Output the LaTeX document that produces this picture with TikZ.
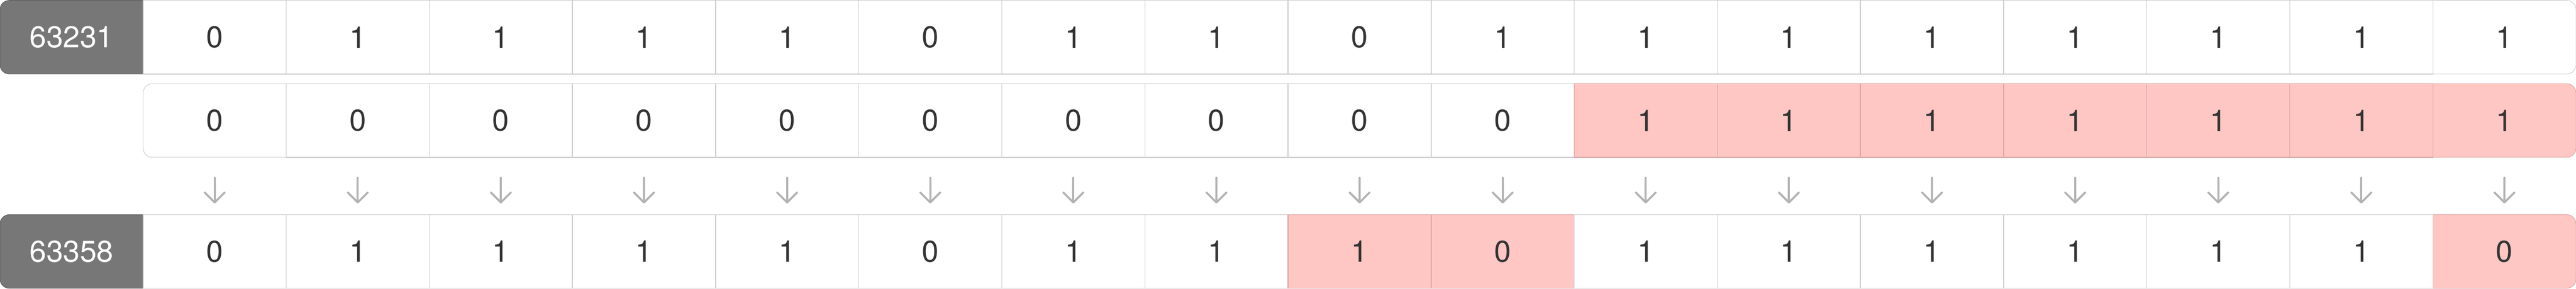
\documentclass[tikz,border=0pt]{standalone}
\usepackage{fontspec}
\setmainfont{TeX Gyre Heros}
\usetikzlibrary{positioning, arrows.meta, backgrounds}
\definecolor{cellline}{HTML}{CCCCCC}
\definecolor{flipfill}{HTML}{FFC7C3}
\definecolor{flipline}{HTML}{D9A3A0}
\definecolor{labfill}{HTML}{777777}
\definecolor{labline}{HTML}{5F5F5F}
\definecolor{digit}{HTML}{333333}
\definecolor{arrgray}{HTML}{B3B3B3}
\tikzset{pcell/.style={draw=cellline, fill=white}}
\tikzset{pflip/.style={draw=flipline, fill=flipfill}}
\tikzset{plab/.style={draw=labline, fill=labfill}}
\tikzset{dcell/.style={rectangle, pcell, line width=0.02cm, minimum width=3.84cm, minimum height=1.98cm, inner sep=0pt, outer sep=0pt, text=digit, font=\fontsize{23}{28}\selectfont}}
\tikzset{dflip/.style={dcell, pflip}}
\tikzset{dlabel/.style={dcell, plab, text=white}}
\tikzset{dcorner/.style={draw=none, fill=none}}
\tikzset{arr/.style={draw=arrgray, line width=0.055cm, line cap=round, -{Straight Barb[round, length=0.27cm, width=0.54cm]}, shorten <=0.55cm, shorten >=0.3cm}}
\newcommand{\crad}{0.25cm}
\newcommand{\lround}[2]{\path[#2] (#1.north east) -- ([xshift=\crad]#1.north west)
    arc[start angle=90, end angle=180, radius=\crad] -- ([yshift=\crad]#1.south west)
    arc[start angle=180, end angle=270, radius=\crad] -- (#1.south east) -- cycle;}
\newcommand{\rround}[2]{\path[#2] (#1.north west) -- ([xshift=-\crad]#1.north east)
    arc[start angle=90, end angle=0, radius=\crad] -- ([yshift=\crad]#1.south east)
    arc[start angle=0, end angle=-90, radius=\crad] -- (#1.south west) -- cycle;}

\begin{document}
\begin{tikzpicture}
    \useasboundingbox (0,0) rectangle (69.12,7.76);
    % first row: 63231
    \node[dlabel, dcorner] (la) at (1.92,6.76) {63231};
    \foreach \b [count=\i] in {0,1,1,1,1,0,1,1,0,1,1,1,1,1,1,1}
        \node[dcell] (a\i) at ({1.92+3.84*\i},6.76) {\b};
    \node[dcell, dcorner, right=0pt of a16] (a17) {1};
    % second row: mask
    \node[dcell, dcorner] (b1) at (5.76,4.52) {0};
    \foreach \b/\s [count=\i from 2] in {0/dcell,0/dcell,0/dcell,0/dcell,0/dcell,
            0/dcell,0/dcell,0/dcell,0/dcell,1/dflip,1/dflip,1/dflip,1/dflip,1/dflip,1/dflip}
        \node[\s] (b\i) at ({1.92+3.84*\i},4.52) {\b};
    \node[dflip, dcorner, right=0pt of b16] (b17) {1};
    % third row: 63358
    \node[dlabel, dcorner] (lc) at (1.92,1.00) {63358};
    \foreach \b/\s [count=\i] in {0/dcell,1/dcell,1/dcell,1/dcell,1/dcell,0/dcell,1/dcell,1/dcell,
            1/dflip,0/dflip,1/dcell,1/dcell,1/dcell,1/dcell,1/dcell,1/dcell}
        \node[\s] (c\i) at ({1.92+3.84*\i},1.00) {\b};
    \node[dflip, dcorner, right=0pt of c16] (c17) {0};
    % rounded ends
    \begin{scope}[on background layer, line width=0.02cm]
        \lround{la}{plab}
        \lround{lc}{plab}
        \lround{b1}{pcell}
        \rround{a17}{pcell}
        \rround{b17}{pflip}
        \rround{c17}{pflip}
    \end{scope}
    \foreach \i in {1,...,17}
        \draw[arr] (b\i) -- (c\i);
\end{tikzpicture}
\end{document}
